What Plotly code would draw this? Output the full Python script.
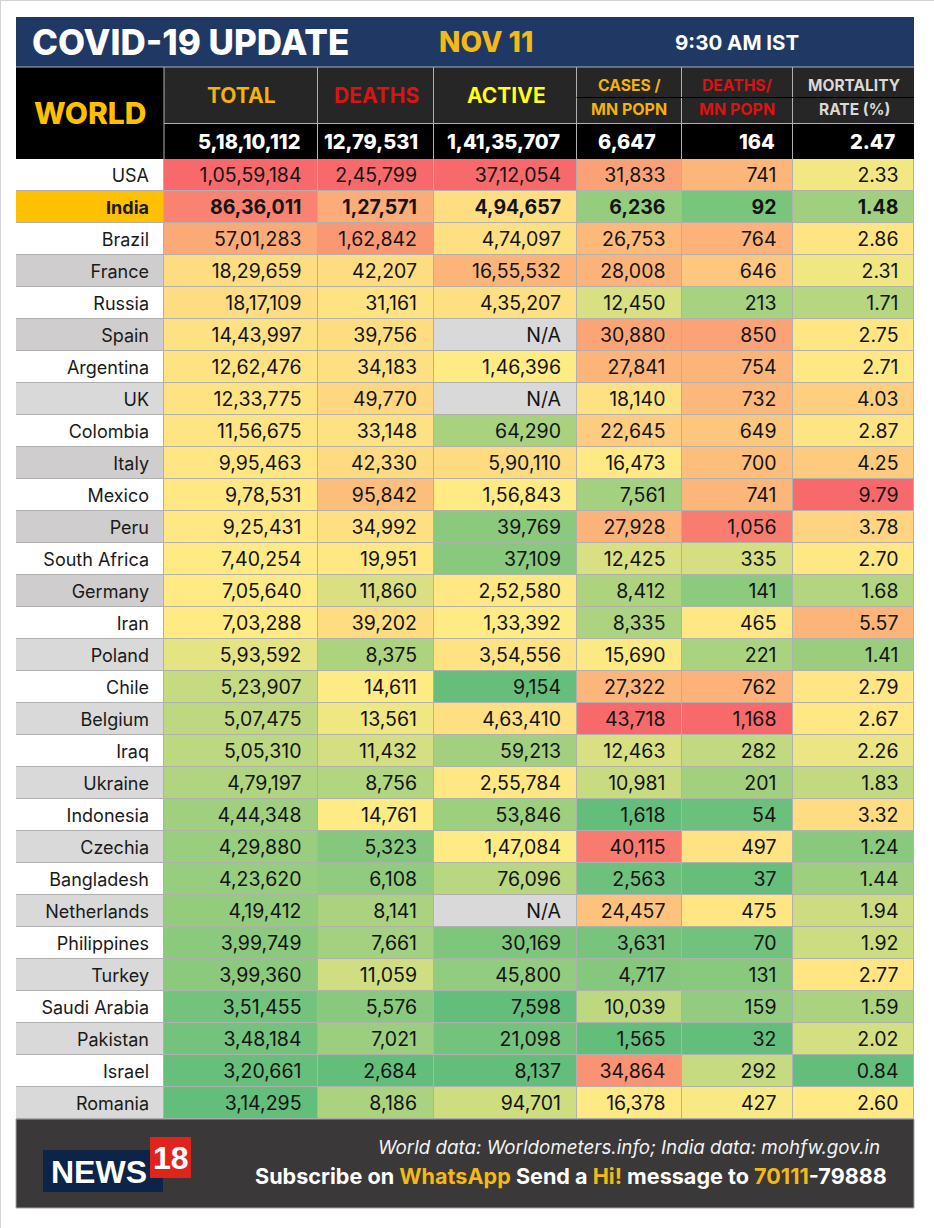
import numpy as np
import plotly.graph_objects as go

FONT = "Inter"

countries = ["USA", "India", "Brazil", "France", "Russia", "Spain", "Argentina", "UK", "Colombia", "Italy",
             "Mexico", "Peru", "South Africa", "Germany", "Iran", "Poland", "Chile", "Belgium", "Iraq", "Ukraine",
             "Indonesia", "Czechia", "Bangladesh", "Netherlands", "Philippines", "Turkey", "Saudi Arabia",
             "Pakistan", "Israel", "Romania"]
total = ["1,05,59,184", "86,36,011", "57,01,283", "18,29,659", "18,17,109", "14,43,997", "12,62,476", "12,33,775",
         "11,56,675", "9,95,463", "9,78,531", "9,25,431", "7,40,254", "7,05,640", "7,03,288", "5,93,592", "5,23,907",
         "5,07,475", "5,05,310", "4,79,197", "4,44,348", "4,29,880", "4,23,620", "4,19,412", "3,99,749", "3,99,360",
         "3,51,455", "3,48,184", "3,20,661", "3,14,295"]
deaths = ["2,45,799", "1,27,571", "1,62,842", "42,207", "31,161", "39,756", "34,183", "49,770", "33,148", "42,330",
          "95,842", "34,992", "19,951", "11,860", "39,202", "8,375", "14,611", "13,561", "11,432", "8,756", "14,761",
          "5,323", "6,108", "8,141", "7,661", "11,059", "5,576", "7,021", "2,684", "8,186"]
active = ["37,12,054", "4,94,657", "4,74,097", "16,55,532", "4,35,207", "N/A", "1,46,396", "N/A", "64,290",
          "5,90,110", "1,56,843", "39,769", "37,109", "2,52,580", "1,33,392", "3,54,556", "9,154", "4,63,410",
          "59,213", "2,55,784", "53,846", "1,47,084", "76,096", "N/A", "30,169", "45,800", "7,598", "21,098",
          "8,137", "94,701"]
cases_mn = ["31,833", "6,236", "26,753", "28,008", "12,450", "30,880", "27,841", "18,140", "22,645", "16,473",
            "7,561", "27,928", "12,425", "8,412", "8,335", "15,690", "27,322", "43,718", "12,463", "10,981", "1,618",
            "40,115", "2,563", "24,457", "3,631", "4,717", "10,039", "1,565", "34,864", "16,378"]
deaths_mn = ["741", "92", "764", "646", "213", "850", "754", "732", "649", "700", "741", "1,056", "335", "141", "465",
             "221", "762", "1,168", "282", "201", "54", "497", "37", "475", "70", "131", "159", "32", "292", "427"]
mortality = ["2.33", "1.48", "2.86", "2.31", "1.71", "2.75", "2.71", "4.03", "2.87", "4.25", "9.79", "3.78", "2.70",
             "1.68", "5.57", "1.41", "2.79", "2.67", "2.26", "1.83", "3.32", "1.24", "1.44", "1.94", "1.92", "2.77",
             "1.59", "2.02", "0.84", "2.60"]
world = ["5,18,10,112", "12,79,531", "1,41,35,707", "6,647", "164", "2.47"]
columns = [total, deaths, active, cases_mn, deaths_mn, mortality]

# 0 white, 1 light grey, 2 darker grey, 3 India
country_fill = [0, 3, 0, 2, 0, 2, 0, 1, 0, 2, 0, 2, 0, 2, 0, 1, 0, 1, 0, 1, 0, 1, 0, 1, 0, 1, 0, 1, 0, 1]

col_edges = [164, 317.5, 433.5, 576.5, 681.5, 792.5, 914]
col_right = [301.5, 417, 561, 665.5, 776.5, 898.5]
world_right = [301.5, 420, 561.5, 658, 776.5, 898]
row_top = 159
row_h = 32
row_edges = [row_top + i * row_h for i in range(len(countries) + 1)]
row_mid = [row_top + (i + 0.5) * row_h + 2.5 for i in range(len(countries))]
LEFT, RIGHT = 16, 914
GRID = "#b0b0b0"


def to_num(s):
    return np.nan if s == "N/A" else float(s.replace(",", ""))


def scale_col(vals):
    # excel style 3 colour scale: min - median - max mapped to 0 - .5 - 1
    v = np.array([to_num(s) for s in vals])
    lo, mid, hi = np.nanmin(v), np.nanmedian(v), np.nanmax(v)
    return np.where(v <= mid, 0.5 * (v - lo) / (mid - lo), 0.5 + 0.5 * (v - mid) / (hi - mid))


z = np.array([scale_col(c) for c in columns]).T
na = np.where(np.isnan(z), 1.0, np.nan)
z_list = [[None if np.isnan(x) else float(x) for x in row] for row in z]
na_list = [[None if np.isnan(x) else float(x) for x in row] for row in na]

fig = go.Figure()

fig.add_trace(go.Heatmap(x=[LEFT, col_edges[0]], y=row_edges, z=[[c] for c in country_fill], zmin=0, zmax=3,
                         colorscale=[[0, "#ffffff"], [1 / 3, "#d9d9d9"], [2 / 3, "#cfcdcd"], [1, "#ffc000"]],
                         showscale=False, xgap=1, ygap=1, hoverinfo="skip"))
fig.add_trace(go.Heatmap(x=col_edges, y=row_edges, z=z_list, zmin=0, zmax=1,
                         colorscale=[[0, "#63be7b"], [0.5, "#ffeb84"], [1, "#f8696b"]],
                         showscale=False, xgap=1, ygap=1, hoverinfo="skip"))
fig.add_trace(go.Heatmap(x=col_edges, y=row_edges, z=na_list, zmin=0, zmax=1,
                         colorscale=[[0, "#d9d9d9"], [1, "#d9d9d9"]],
                         showscale=False, xgap=1, ygap=1, hoverinfo="skip"))

fig.add_trace(go.Scatter(x=[col_edges[0] - 15] * len(countries), y=row_mid, mode="text",
                         text=["<b>%s</b>" % c if c == "India" else c for c in countries],
                         textposition="middle left", textfont=dict(family=FONT, size=18, color="#1a1a1a"),
                         hoverinfo="skip"))
for right, col in zip(col_right, columns):
    fig.add_trace(go.Scatter(x=[right] * len(col), y=row_mid, mode="text",
                             text=["<b>%s</b>" % s if c == "India" else s for s, c in zip(col, countries)],
                             textposition="middle left", textfont=dict(family=FONT, size=19.5, color="#141414"),
                             hoverinfo="skip"))


def rect(x0, y0, x1, y1, fill, line=None, layer="below"):
    fig.add_shape(type="rect", x0=x0, y0=y0, x1=x1, y1=y1, fillcolor=fill, layer=layer,
                  line=dict(color=line, width=1) if line else dict(width=0))


def text(x, y, s, size, color, anchor="center", family=FONT, weight=None):
    font = dict(family=family, size=size, color=color)
    if weight:
        font["weight"] = weight
    fig.add_annotation(x=x, y=y, text=s, showarrow=False, xanchor=anchor, yanchor="middle", font=font)


# page edge
fig.add_shape(type="line", x0=0, x1=934, y0=0.5, y1=0.5, line=dict(color="#d4d4d4", width=1), layer="below")
fig.add_shape(type="line", x0=0.5, x1=0.5, y0=0, y1=1228, line=dict(color="#d4d4d4", width=1), layer="below")

# frame, title, header, footer
rect(LEFT, row_top, RIGHT, row_edges[-1], GRID)
rect(LEFT, 17, RIGHT, 67, "#1f3864")
rect(LEFT, 67, col_edges[0], 159, "#000000")
rect(col_edges[0], 67, RIGHT, 123, "#262626")
rect(col_edges[0], 123, RIGHT, 159, "#000000")
rect(LEFT, row_edges[-1], RIGHT, 1208, "#3a3838", "#a6a6a6")
for xe in col_edges[:-1]:
    fig.add_shape(type="line", x0=xe, x1=xe, y0=67, y1=159, line=dict(color=GRID, width=1), layer="below")
fig.add_shape(type="line", x0=LEFT, x1=RIGHT, y0=67, y1=67, line=dict(color=GRID, width=1), layer="below")
fig.add_shape(type="line", x0=col_edges[0], x1=RIGHT, y0=123.5, y1=123.5, line=dict(color=GRID, width=1), layer="below")
fig.add_shape(type="line", x0=col_edges[3], x1=RIGHT, y0=97.5, y1=97.5, line=dict(color="#000000", width=1), layer="below")

text(30, 42, "COVID-19 UPDATE", 35, "#ffffff", "left", weight=800)
text(486, 42, "NOV 11", 28, "#f4b916", weight=800)
text(737, 42, "<b>9:30 AM IST</b>", 20.5, "#ffffff")
text(90, 113, "WORLD", 30, "#ffc000", weight=800)
text(241, 95, "<b>TOTAL</b>", 21, "#f0b310")
text(376, 95, "<b>DEATHS</b>", 21, "#d81414")
text(506, 95, "<b>ACTIVE</b>", 21, "#ffff1a")
text(629, 85, "<b>CASES /</b>", 15.7, "#f0b310")
text(629, 109, "<b>MN POPN</b>", 16, "#f0b310")
text(737, 85, "<b>DEATHS/</b>", 15.7, "#d81414")
text(737, 109, "<b>MN POPN</b>", 16, "#d81414")
text(854, 85, "<b>MORTALITY</b>", 15.5, "#d9d9d9")
text(854, 109, "<b>RATE (%)</b>", 15.5, "#d9d9d9")
for right, s in zip(world_right, world):
    text(right, 142, s, 20, "#ffffff", "right", weight=800)

# logo
rect(43, 1150, 163, 1192, "#0b2447", layer="above")
rect(150, 1137, 191, 1178, "#e0241c", layer="above")
text(49, 1172, "<b>NEWS</b>", 32, "#ffffff", "left", "Liberation Sans")
text(171, 1158, "<b>18</b>", 32, "#ffffff", "center", "Liberation Sans")

Y = "#f4b916"
text(882, 1147, "<i>World data: Worldometers.info; India data: mohfw.gov.in</i>", 18.8, "#f2f2f2", "right")
text(889, 1176, "<b>Subscribe on <span style='color:%s'>WhatsApp</span> Send a <span style='color:%s'>Hi!</span> "
                "message to <span style='color:%s'>70111</span>-79888</b>" % (Y, Y, Y), 21.6, "#ffffff", "right")

fig.update_xaxes(range=[0, 934], visible=False, fixedrange=True)
fig.update_yaxes(range=[1228, 0], visible=False, fixedrange=True)
fig.update_layout(width=934, height=1228, margin=dict(l=0, r=0, t=0, b=0), showlegend=False,
                  paper_bgcolor="#ffffff", plot_bgcolor="#ffffff")

fig.write_html("out.html", config={"displayModeBar": False}, post_script="document.body.style.margin='0';")
